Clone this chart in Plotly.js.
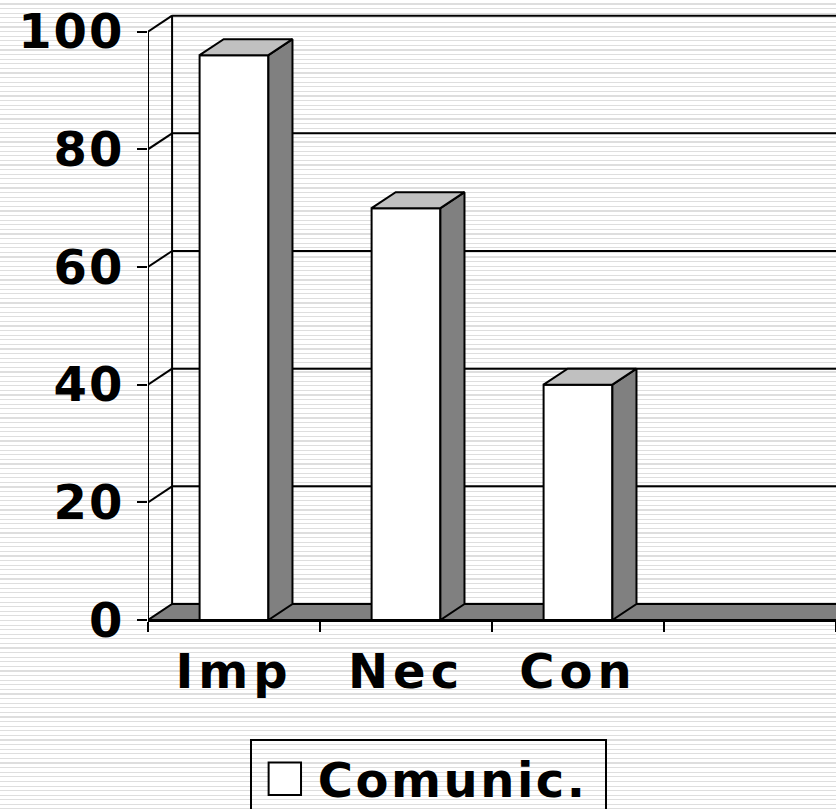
<!DOCTYPE html>
<html>
<head>
<meta charset="utf-8">
<script src="https://cdn.plot.ly/plotly-3.0.1.min.js"></script>
<style>
  html, body { margin: 0; padding: 0; }
  body {
    width: 836px; height: 809px; overflow: hidden;
    background-color: #ffffff;
    background-image: repeating-linear-gradient(to bottom, #ffffff 0px, #ffffff 3.5px, #dedede 3.5px, #dedede 4.6px);
  }
  #chart { width: 836px; height: 809px; }
  .x2tick text { letter-spacing: 5px; }
  .ytick text { letter-spacing: 2px; }
  .legendtext { letter-spacing: 2.5px; }
</style>
</head>
<body>
<div id="chart"></div>
<script>
// ---- data ----
const categories = ['Imp', 'Nec', 'Con'];
const values = [96, 70, 40];
const seriesName = 'Comunic.';
const yTickValues = [0, 20, 40, 60, 80, 100];
const slotCount = 4;

// ---- pseudo-3D geometry (in axis units) ----
const HW = 0.2;        // half bar width
const DX = 0.14;       // depth offset along x
const DY = 2.72;       // depth offset along y
const X0 = -0.5, X1 = slotCount - 0.5;
const FAR = X1 + 2;
const FONT = 'DejaVu Sans';

const xCenters = categories.map((c, i) => i);
const boundaries = [];
for (let i = 0; i <= slotCount; i++) boundaries.push(i - 0.5);

const traces = [];
// front faces (real bars)
traces.push({
  type: 'bar', x: xCenters, y: values, width: 2 * HW, name: seriesName,
  marker: { color: '#ffffff', line: { color: '#000000', width: 2 } },
  showlegend: true, hoverinfo: 'skip'
});
// top & side faces
values.forEach((v, i) => {
  const L = xCenters[i] - HW, R = xCenters[i] + HW;
  traces.push({
    type: 'scatter', mode: 'lines', fill: 'toself', fillcolor: '#808080',
    x: [R, R + DX, R + DX, R, R], y: [0, DY, v + DY, v, 0],
    line: { color: '#000', width: 2 }, showlegend: false, hoverinfo: 'skip'
  });
  traces.push({
    type: 'scatter', mode: 'lines', fill: 'toself', fillcolor: '#c0c0c0',
    x: [L, L + DX, R + DX, R, L], y: [v, v + DY, v + DY, v, v],
    line: { color: '#000', width: 2 }, showlegend: false, hoverinfo: 'skip'
  });
});
// left wall diagonals + front value axis line
const dx = [], dy = [];
yTickValues.slice(1).forEach(v => { dx.push(X0, X0 + DX, null); dy.push(v, v + DY, null); });
traces.push({
  type: 'scatter', mode: 'lines', x: dx, y: dy, cliponaxis: false,
  line: { color: '#000', width: 2 }, showlegend: false, hoverinfo: 'skip'
});
traces.push({
  type: 'scatter', mode: 'lines', x: [X0, X0], y: [0, yTickValues[yTickValues.length - 1]], cliponaxis: false,
  line: { color: '#000', width: 2 }, showlegend: false, hoverinfo: 'skip'
});
// carrier for category label axis
traces.push({ type: 'scatter', x: [], y: [], xaxis: 'x2', showlegend: false, hoverinfo: 'skip' });

// shapes: floor, back wall gridlines, back wall edge
const shapes = [];
shapes.push({
  type: 'path', xref: 'x', yref: 'y', layer: 'below',
  path: `M${X0},0 L${X0 + DX},${DY} L${FAR},${DY} L${FAR},0 Z`,
  fillcolor: '#808080', line: { color: '#000', width: 2 }
});
yTickValues.slice(1).forEach(v => {
  shapes.push({
    type: 'line', xref: 'x', yref: 'y', layer: 'below',
    x0: X0 + DX, x1: FAR, y0: v + DY, y1: v + DY,
    line: { color: '#000', width: 2 }
  });
});
shapes.push({
  type: 'line', xref: 'x', yref: 'y', layer: 'below',
  x0: X0 + DX, x1: X0 + DX, y0: DY, y1: yTickValues[yTickValues.length - 1] + DY,
  line: { color: '#000', width: 2 }
});

const tickFont = { family: FONT, size: 48, color: '#000', weight: 'bold' };

const layout = {
  width: 836, height: 809,
  margin: { l: 148, r: 0, t: 14, b: 189, autoexpand: false },
  paper_bgcolor: 'rgba(0,0,0,0)', plot_bgcolor: 'rgba(0,0,0,0)',
  showlegend: true,
  xaxis: {
    range: [X0, X1], tickmode: 'array', tickvals: boundaries, showticklabels: false,
    ticks: 'outside', ticklen: 10, tickwidth: 2, tickcolor: '#000',
    showline: true, linecolor: '#000', linewidth: 2,
    showgrid: false, zeroline: false, fixedrange: true, automargin: false
  },
  xaxis2: {
    overlaying: 'x', anchor: 'y', side: 'bottom', range: [X0, X1],
    tickmode: 'array', tickvals: xCenters, ticktext: categories,
    ticks: '', tickfont: tickFont, ticklabelstandoff: 19,
    showgrid: false, zeroline: false, showline: false, fixedrange: true, automargin: false
  },
  yaxis: {
    range: [0, 103], tickmode: 'array', tickvals: yTickValues,
    ticks: 'outside', ticklen: 10, tickwidth: 2, tickcolor: '#000',
    tickfont: tickFont, ticklabelstandoff: 3,
    showgrid: false, zeroline: false, showline: false, fixedrange: true, automargin: false
  },
  legend: {
    orientation: 'h', entrywidthmode: 'pixels', entrywidth: 282,
    x: 0.148, xanchor: 'left', y: -0.1964, yanchor: 'top',
    bgcolor: 'rgba(0,0,0,0)', bordercolor: '#000', borderwidth: 2,
    font: tickFont, itemwidth: 56
  },
  shapes: shapes
};

function enlargeLegendSymbol() {
  document.querySelectorAll('.legend .legendpoints path').forEach(p => {
    if (p.dataset.scaled) return;
    const t = p.getAttribute('transform') || '';
    p.setAttribute('transform', t + ' scale(2.7)');
    p.setAttribute('vector-effect', 'non-scaling-stroke');
    p.dataset.scaled = '1';
  });
}

Plotly.newPlot('chart', traces, layout, { staticPlot: true }).then(() => {
  enlargeLegendSymbol();
  setTimeout(enlargeLegendSymbol, 50);
  setTimeout(enlargeLegendSymbol, 300);
});
</script>
</body>
</html>
